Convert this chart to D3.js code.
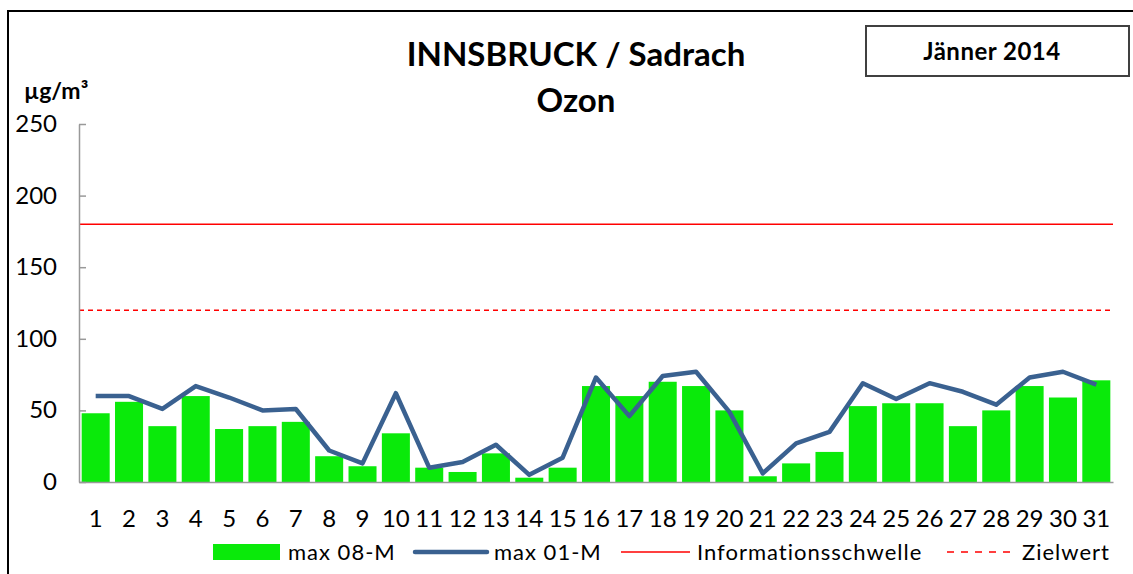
<!DOCTYPE html>
<html>
<head>
<meta charset="utf-8">
<script src="https://cdn.jsdelivr.net/npm/d3@7"></script>
<style>
  body { margin: 0; background: #fff; }
  text { font-family: Lato, "Liberation Sans", sans-serif; fill: #000; }
</style>
</head>
<body>
<svg width="1133" height="574"></svg>
<script>
// data
const days = d3.range(1, 32);
const max08 = [48, 56, 39, 60, 37, 39, 42, 18, 11, 34, 10, 7, 20, 3, 10, 67, 60, 70, 67, 50, 4, 13, 21, 53, 55, 55, 39, 50, 67, 59, 71];
const max01 = [60, 60, 51, 67, 59, 50, 51, 22, 13, 62, 10, 14, 26, 5, 17, 73, 46, 74, 77, 49, 6, 27, 35, 69, 58, 69, 63, 54, 73, 77, 68];
const infoSchwelle = 180;
const zielwert = 120;
const yTicks = [0, 50, 100, 150, 200, 250];
const legendLabels = ["max 08-M", "max 01-M", "Informationsschwelle", "Zielwert"];

const svg = d3.select("svg");

// outer frame (runs past right and bottom edge)
svg.append("rect")
  .attr("x", 8).attr("y", 11).attr("width", 1140).attr("height", 580)
  .attr("fill", "none").attr("stroke", "#000").attr("stroke-width", 2);

const x = d3.scaleBand().domain(days).range([79, 1113]).paddingInner(0.16).paddingOuter(0.08);
const y = d3.scaleLinear().domain([0, 250]).range([482, 124]);

// bars
svg.append("g").selectAll("rect")
  .data(max08)
  .join("rect")
  .attr("x", (d, i) => x(days[i]))
  .attr("y", d => y(d))
  .attr("width", x.bandwidth())
  .attr("height", d => y(0) - y(d))
  .attr("fill", "#0aea0a");

// limit lines
svg.append("line")
  .attr("x1", 79).attr("x2", 1113)
  .attr("y1", y(infoSchwelle)).attr("y2", y(infoSchwelle))
  .attr("stroke", "#ff0000").attr("stroke-width", 1.5);
svg.append("line")
  .attr("x1", 79).attr("x2", 1113)
  .attr("y1", y(zielwert)).attr("y2", y(zielwert))
  .attr("stroke", "#ff0000").attr("stroke-width", 1.5)
  .attr("stroke-dasharray", "5,4");

// y axis, ticks pointing inward
const yAxis = svg.append("g")
  .attr("transform", "translate(79,0)")
  .call(d3.axisRight(y).tickValues(yTicks).tickSize(7).tickSizeOuter(0).tickFormat(""));
yAxis.selectAll("line, path").attr("stroke", "#999").attr("stroke-width", 1.5);

svg.append("g").selectAll("text")
  .data(yTicks)
  .join("text")
  .attr("x", 57).attr("y", d => y(d) + 8)
  .attr("text-anchor", "end")
  .attr("font-size", 24)
  .attr("fill", "#222")
  .text(d => d);

// x axis
const xAxis = svg.append("g")
  .attr("transform", `translate(0,${y(0)})`)
  .call(d3.axisBottom(x).tickSize(0).tickSizeOuter(0));
xAxis.select("path").attr("stroke", "#999").attr("stroke-width", 1.5);
xAxis.selectAll("text")
  .attr("font-size", 24)
  .attr("font-family", "Lato, sans-serif")
  .attr("fill", "#222")
  .attr("dy", 0)
  .attr("y", 45);

// line
const line = d3.line()
  .x((d, i) => x(days[i]) + x.bandwidth() / 2)
  .y(d => y(d));
svg.append("path")
  .datum(max01)
  .attr("d", line)
  .attr("fill", "none")
  .attr("stroke", "#3a6190")
  .attr("stroke-width", 4.5)
  .attr("stroke-linejoin", "round");

// titles
svg.append("text").attr("x", 576).attr("y", 66).attr("text-anchor", "middle")
  .attr("font-size", 33).attr("font-weight", "bold").text("INNSBRUCK / Sadrach");
svg.append("text").attr("x", 576).attr("y", 112).attr("text-anchor", "middle")
  .attr("font-size", 33).attr("font-weight", "bold").text("Ozon");
svg.append("text").attr("x", 24).attr("y", 99)
  .attr("font-size", 23).attr("font-weight", "bold").text("µg/m³");

// month box
svg.append("rect")
  .attr("x", 866).attr("y", 26).attr("width", 263).attr("height", 50)
  .attr("fill", "none").attr("stroke", "#404040").attr("stroke-width", 2);
svg.append("text").attr("x", 992).attr("y", 60).attr("text-anchor", "middle")
  .attr("font-size", 24).attr("font-weight", "bold").attr("letter-spacing", 0.5)
  .text("Jänner 2014");

// legend
const lg = svg.append("g");
lg.append("rect").attr("x", 213).attr("y", 544).attr("width", 67).attr("height", 16).attr("fill", "#0aea0a");
lg.append("line").attr("x1", 415).attr("x2", 487).attr("y1", 552).attr("y2", 552)
  .attr("stroke", "#3a6190").attr("stroke-width", 4.5).attr("stroke-linecap", "round");
lg.append("line").attr("x1", 621).attr("x2", 690).attr("y1", 552).attr("y2", 552)
  .attr("stroke", "#ff0000").attr("stroke-width", 1.5);
lg.append("line").attr("x1", 947).attr("x2", 1013).attr("y1", 552).attr("y2", 552)
  .attr("stroke", "#ff0000").attr("stroke-width", 1.5).attr("stroke-dasharray", "7,7");
const legendX = [288, 494, 697, 1022];
lg.selectAll("text")
  .data(legendLabels)
  .join("text")
  .attr("x", (d, i) => legendX[i])
  .attr("y", 560)
  .attr("font-size", 22)
  .attr("letter-spacing", 1)
  .attr("fill", "#222")
  .text(d => d);
</script>
</body>
</html>
